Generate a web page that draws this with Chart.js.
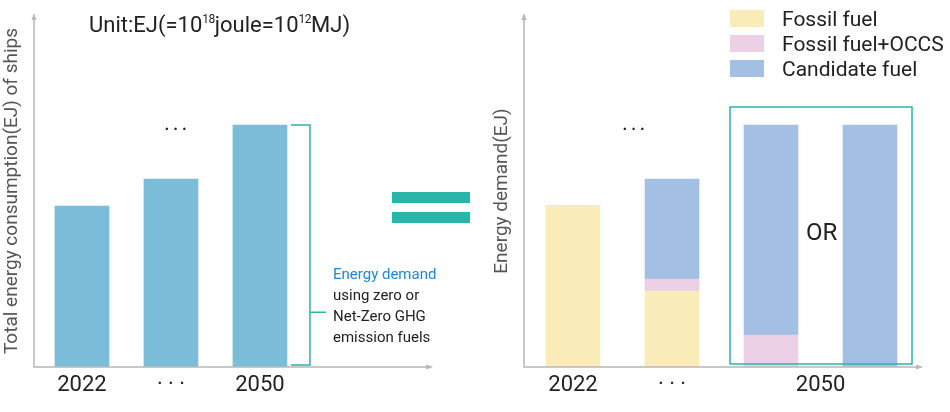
<!DOCTYPE html>
<html>
<head>
<meta charset="utf-8">
<script src="https://cdn.jsdelivr.net/npm/chart.js@4.4.1/dist/chart.umd.min.js"></script>
<style>
body{margin:0;background:#fff;font-family:Roboto,sans-serif;color:#222}
#wrap{position:relative;width:950px;height:412px;overflow:hidden}
canvas{position:absolute;top:0}
#left{left:0}
#right{left:475px}
.t{position:absolute;white-space:nowrap;line-height:1}
.t sup{font-size:12px;vertical-align:9px;line-height:0;letter-spacing:-0.5px}
.dots{letter-spacing:3px}
.eq{position:absolute;left:392px;width:78px;height:11px;background:#2ab5ab}
#legend{position:absolute;left:730px;top:10px}
#legend div{height:25px;position:relative}
#legend span.box{position:absolute;left:0;top:0;width:34px;height:17px}
#legend span.txt{position:absolute;left:52px;top:-1px;font-size:21px;line-height:21px;white-space:nowrap}
#note{position:absolute;left:333px;top:264px;font-size:15px;line-height:21px}
</style>
</head>
<body>
<div id="wrap">
  <canvas id="left" width="475" height="412"></canvas>
  <canvas id="right" width="475" height="412"></canvas>
  <div class="t" style="left:89px;top:14px;font-size:22px">Unit:EJ(=10<sup>18</sup>joule=10<sup>12</sup>MJ)</div>
  <div class="t dots" style="left:164px;top:119px;font-size:22px">&middot;&middot;&middot;</div>
  <div class="t dots" style="left:622px;top:119px;font-size:22px">&middot;&middot;&middot;</div>
  <div class="t" style="left:806px;top:220px;font-size:24px">OR</div>
  <div id="note"><span style="color:#1e88d6">Energy demand</span><br>using zero or<br>Net-Zero GHG<br>emission fuels</div>
  <div class="eq" style="top:192px"></div>
  <div class="eq" style="top:212px"></div>
  <div id="legend"></div>
</div>
<script>
// left chart: total energy consumption
var years = ['2022', '\u00b7 \u00b7 \u00b7', '2050'];
var totalEnergy = [16.1, 18.8, 24.2];

// right chart: energy demand by fuel type (last two bars are the 2050 alternatives)
var rightTicks = ['2022', '\u00b7 \u00b7 \u00b7', '2050'];
var rightTickAt = [0, 1, 2.5];
var fossil = [16.1, 7.6, 0, 0];
var fossilOccs = [0, 1.2, 3.2, 0];
var candidate = [0, 10.0, 21.0, 24.2];

var yMax = 35.2;
var teal = '#2ab5ab';

Chart.defaults.font.family = 'Roboto';

var axisArrows = {
	id: 'axisArrows',
	afterDatasetsDraw: function(chart) {
		var a = chart.chartArea, ctx = chart.ctx;
		ctx.save();
		ctx.strokeStyle = '#b8b8b8';
		ctx.fillStyle = '#b8b8b8';
		ctx.lineWidth = 1.5;
		ctx.beginPath();
		ctx.moveTo(a.left, a.top);
		ctx.lineTo(a.left, a.bottom);
		ctx.lineTo(a.right, a.bottom);
		ctx.stroke();
		ctx.beginPath();
		ctx.moveTo(a.left, a.top - 2);
		ctx.lineTo(a.left - 2.5, a.top + 5);
		ctx.lineTo(a.left + 2.5, a.top + 5);
		ctx.fill();
		ctx.beginPath();
		ctx.moveTo(a.right + 2, a.bottom);
		ctx.lineTo(a.right - 5, a.bottom - 2.5);
		ctx.lineTo(a.right - 5, a.bottom + 2.5);
		ctx.fill();
		ctx.restore();
	}
};

var bracket = {
	id: 'bracket',
	afterDatasetsDraw: function(chart) {
		var x = chart.scales.x, y = chart.scales.y, ctx = chart.ctx;
		var last = totalEnergy.length - 1;
		var x0 = x.getPixelForValue(last) + 31, x1 = x0 + 19;
		var top = y.getPixelForValue(totalEnergy[last]);
		var bottom = y.getPixelForValue(0) - 2;
		var mid = top + (bottom - top) * 0.78;
		ctx.save();
		ctx.strokeStyle = teal;
		ctx.lineWidth = 1.5;
		ctx.beginPath();
		ctx.moveTo(x0, top);
		ctx.lineTo(x1, top);
		ctx.lineTo(x1, bottom);
		ctx.lineTo(x0, bottom);
		ctx.moveTo(x1, mid);
		ctx.lineTo(x1 + 16, mid);
		ctx.stroke();
		ctx.restore();
	}
};

var box2050 = {
	id: 'box2050',
	afterDatasetsDraw: function(chart) {
		var x = chart.scales.x, y = chart.scales.y, ctx = chart.ctx;
		var left = x.getPixelForValue(2) - 41, right = x.getPixelForValue(3) + 42;
		var top = y.getPixelForValue(candidate[3]) - 18, bottom = y.getPixelForValue(0) - 3;
		ctx.save();
		ctx.strokeStyle = teal;
		ctx.lineWidth = 1.5;
		ctx.strokeRect(left, top, right - left, bottom - top);
		ctx.restore();
	}
};

function yAxis(title, width, pad) {
	return {
		min: 0, max: yMax,
		grid: {display: false},
		border: {display: false},
		ticks: {display: false},
		title: {display: true, text: title, color: '#555', font: {size: 19}, padding: {top: pad, bottom: 0}},
		afterFit: function(s) { s.width = width; }
	};
}

function xAxis(min, max, labels, at) {
	return {
		type: 'linear', min: min, max: max, offset: false,
		grid: {display: false, drawTicks: false},
		border: {display: false},
		afterBuildTicks: function(s) {
			s.ticks = at.map(function(v) { return {value: v}; });
		},
		ticks: {
			callback: function(v) { return labels[at.indexOf(v)]; },
			font: {size: 22}, color: '#222', padding: 5, maxRotation: 0, autoSkip: false
		},
		afterFit: function(s) { s.height = 45; }
	};
}

var leftChart = new Chart(document.getElementById('left'), {
	type: 'bar',
	data: {
		datasets: [{
			label: 'Total energy consumption',
			data: totalEnergy.map(function(v, i) { return {x: i, y: v}; }),
			backgroundColor: '#7bbcd9',
			barThickness: 54
		}]
	},
	options: {
		responsive: false,
		animation: false,
		layout: {padding: {top: 15, right: 44, bottom: 0, left: 0}},
		plugins: {legend: {display: false}, tooltip: {enabled: false}},
		scales: {
			x: xAxis(-0.539, 3.922, years, [0, 1, 2]),
			y: yAxis('Total energy consumption(EJ) of ships', 34, 1)
		}
	},
	plugins: [axisArrows, bracket]
});

var rightChart = new Chart(document.getElementById('right'), {
	type: 'bar',
	data: {
		datasets: [
			{label: 'Fossil fuel', data: fossil.map(function(v, i) { return {x: i, y: v}; }), backgroundColor: '#f9ecb9', barThickness: 54},
			{label: 'Fossil fuel+OCCS', data: fossilOccs.map(function(v, i) { return {x: i, y: v}; }), backgroundColor: '#ecd0e5', barThickness: 54},
			{label: 'Candidate fuel', data: candidate.map(function(v, i) { return {x: i, y: v}; }), backgroundColor: '#a3bfe4', barThickness: 54}
		]
	},
	options: {
		responsive: false,
		animation: false,
		layout: {padding: {top: 15, right: 29, bottom: 0, left: 0}},
		plugins: {legend: {display: false}, tooltip: {enabled: false}},
		scales: {
			x: Object.assign(xAxis(-0.495, 3.515, rightTicks, rightTickAt), {stacked: true}),
			y: Object.assign(yAxis('Energy demand(EJ)', 49, 16), {stacked: true})
		}
	},
	plugins: [axisArrows, box2050]
});

// html legend built from the chart datasets
var legend = document.getElementById('legend');
rightChart.data.datasets.forEach(function(ds) {
	var row = document.createElement('div');
	row.innerHTML = '<span class="box" style="background:' + ds.backgroundColor + '"></span><span class="txt">' + ds.label + '</span>';
	legend.appendChild(row);
});
</script>
</body>
</html>
